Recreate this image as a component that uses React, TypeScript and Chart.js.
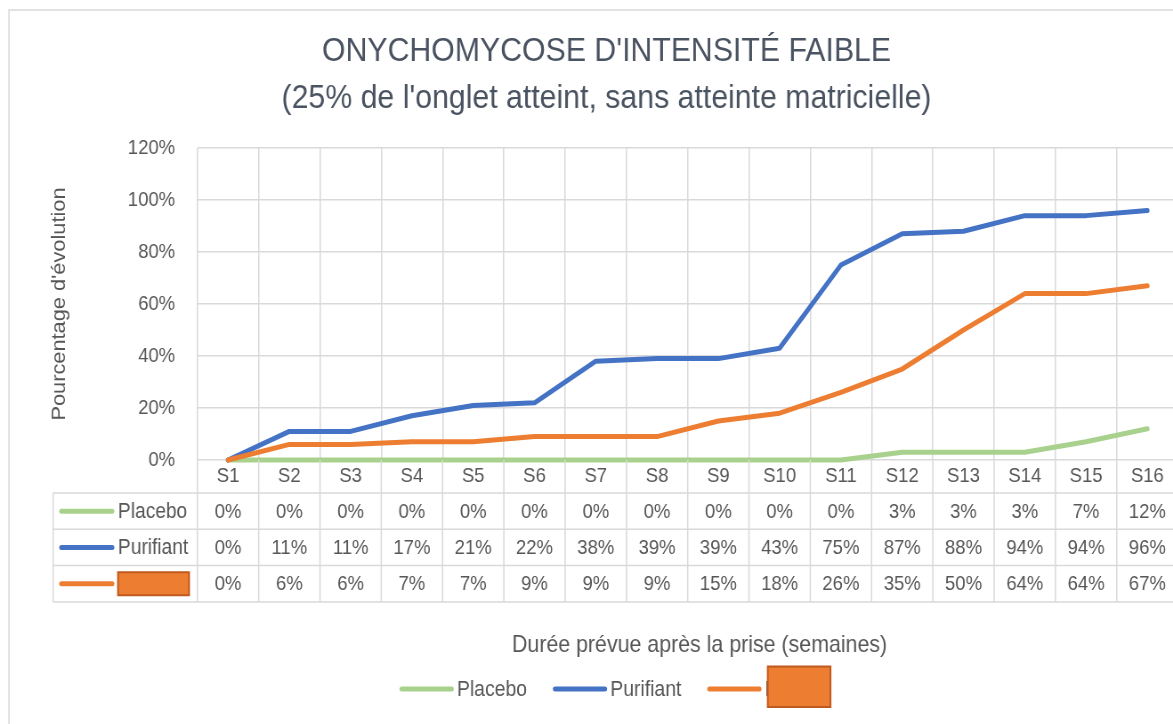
import React, { useEffect, useRef } from 'react';
import { Chart, registerables } from 'chart.js';

Chart.register(...registerables);

// ---- data ----
const CATEGORIES = ['S1', 'S2', 'S3', 'S4', 'S5', 'S6', 'S7', 'S8', 'S9', 'S10', 'S11', 'S12', 'S13', 'S14', 'S15', 'S16'];
const PLACEBO = [0, 0, 0, 0, 0, 0, 0, 0, 0, 0, 0, 3, 3, 3, 7, 12];
const PURIFIANT = [0, 11, 11, 17, 21, 22, 38, 39, 39, 43, 75, 87, 88, 94, 94, 96];
const PRODUIT = [0, 6, 6, 7, 7, 9, 9, 9, 15, 18, 26, 35, 50, 64, 64, 67];
const SERIES_NAMES = ['Placebo', 'Purifiant', 'Produit'];
const SERIES_COLORS = ['#A9D18E', '#4472C4', '#ED7D31'];
const Y_MIN = 0;
const Y_MAX = 120;
const Y_STEP = 20;
const TITLE_LINES = ["ONYCHOMYCOSE D'INTENSITÉ FAIBLE", "(25% de l'onglet atteint, sans atteinte matricielle)"];
const Y_TITLE = "Pourcentage d'évolution";
const X_TITLE = 'Durée prévue après la prise (semaines)';

// ---- layout / style ----
const SX = 0.89; // horizontal squeeze of the reference image
const CW = 1350;
const CH = 724;
const FONT = "'Liberation Sans', Arial, Helvetica, sans-serif";
const TEXT = '#575757';
const GRID = '#D9D9D9';
const REDACT_FILL = '#ED7D31';
const REDACT_STROKE = '#BF5A1E';

const tablePlugin = {
  id: 'tableAndLegend',
  beforeDraw(chart: any) {
    const { ctx } = chart;
    ctx.save();
    ctx.fillStyle = '#ffffff';
    ctx.fillRect(0, 0, chart.width, chart.height);
    ctx.strokeStyle = GRID;
    ctx.lineWidth = 1.5;
    ctx.beginPath();
    ctx.moveTo(10.1, CH);
    ctx.lineTo(10.1, 10);
    ctx.lineTo(CW, 10);
    ctx.stroke();
    ctx.restore();
  },
  afterDraw(chart: any) {
    const { ctx, chartArea } = chart;
    const x = chart.scales.x;
    const n = CATEGORIES.length;
    const half = (x.getPixelForValue(1) - x.getPixelForValue(0)) / 2;
    const left0 = x.getPixelForValue(0) - half;
    const right = x.getPixelForValue(n - 1) + half;
    const tableLeft = 59.6;
    const b = chartArea.bottom;
    const rows = [b, b + 33, b + 69.3, b + 105.6, b + 141.9];

    ctx.save();
    ctx.strokeStyle = GRID;
    ctx.lineWidth = 1.5;
    ctx.beginPath();
    for (let r = 1; r < rows.length; r++) {
      ctx.moveTo(tableLeft, rows[r]);
      ctx.lineTo(right, rows[r]);
    }
    ctx.moveTo(tableLeft, rows[1]);
    ctx.lineTo(tableLeft, rows[4]);
    for (let i = 0; i <= n; i++) {
      const px = left0 + i * 2 * half;
      ctx.moveTo(px, rows[0]);
      ctx.lineTo(px, rows[4]);
    }
    ctx.stroke();

    const datasets = chart.data.datasets;
    // table rows
    for (let r = 0; r < datasets.length; r++) {
      const ds = datasets[r];
      const cy = (rows[r + 1] + rows[r + 2]) / 2;
      ctx.strokeStyle = ds.borderColor;
      ctx.lineWidth = 5;
      ctx.lineCap = 'round';
      ctx.beginPath();
      ctx.moveTo(69, cy);
      ctx.lineTo(126, cy);
      ctx.stroke();
      ctx.fillStyle = TEXT;
      ctx.font = `21.5px ${FONT}`;
      ctx.textAlign = 'left';
      ctx.textBaseline = 'middle';
      ctx.fillText(ds.label, 132.6, cy + 1);
      ctx.font = `20.8px ${FONT}`;
      ctx.textAlign = 'center';
      ds.data.forEach((v: number, i: number) => {
        ctx.fillText(`${v}%`, x.getPixelForValue(i), cy + 1);
      });
      if (r === 2) {
        ctx.fillStyle = REDACT_FILL;
        ctx.strokeStyle = REDACT_STROKE;
        ctx.lineWidth = 2;
        ctx.fillRect(132.6, cy - 11.5, 79.8, 23);
        ctx.strokeRect(132.6, cy - 11.5, 79.8, 23);
      }
    }

    // x axis title
    ctx.fillStyle = TEXT;
    ctx.font = `24px ${FONT}`;
    ctx.textAlign = 'center';
    ctx.textBaseline = 'middle';
    ctx.fillText(X_TITLE, 786, 645);

    // bottom legend
    const ly = 689;
    let lx = 449.4;
    ctx.font = `21.8px ${FONT}`;
    ctx.textAlign = 'left';
    for (let r = 0; r < datasets.length; r++) {
      const ds = datasets[r];
      ctx.strokeStyle = ds.borderColor;
      ctx.lineWidth = 5;
      ctx.lineCap = 'round';
      ctx.beginPath();
      ctx.moveTo(lx + 2, ly);
      ctx.lineTo(lx + 58, ly);
      ctx.stroke();
      const tx = lx + 64;
      ctx.fillStyle = TEXT;
      ctx.fillText(ds.label, tx, ly + 1);
      if (r === 2) {
        ctx.fillStyle = REDACT_FILL;
        ctx.strokeStyle = REDACT_STROKE;
        ctx.lineWidth = 2;
        ctx.fillRect(tx + 3.5, 666.5, 70.5, 40.5);
        ctx.strokeRect(tx + 3.5, 666.5, 70.5, 40.5);
      }
      lx = tx + ctx.measureText(ds.label).width + 29.5;
    }
    ctx.restore();
  },
};

export default function App() {
  const ref = useRef<HTMLCanvasElement>(null);

  useEffect(() => {
    if (!ref.current) return;
    const seriesData = [PLACEBO, PURIFIANT, PRODUIT];
    const chart = new Chart(ref.current, {
      type: 'line',
      data: {
        labels: CATEGORIES,
        datasets: SERIES_NAMES.map((name, i) => ({
          label: name,
          data: seriesData[i],
          borderColor: SERIES_COLORS[i],
          backgroundColor: SERIES_COLORS[i],
          borderWidth: 5,
          pointRadius: 0,
          pointHoverRadius: 0,
          tension: 0,
          fill: false,
          order: 3 - i,
          clip: false as any,
          borderCapStyle: 'round' as const,
          borderJoinStyle: 'round' as const,
        })),
      },
      options: {
        responsive: false,
        animation: false,
        devicePixelRatio: 1,
        layout: { padding: { left: 39.4, right: 26.4, top: 0, bottom: 0 } },
        plugins: {
          legend: { display: false },
          tooltip: { enabled: false },
          title: {
            display: true,
            text: TITLE_LINES,
            color: '#4a5361',
            font: { family: FONT, size: 34, weight: 'normal', lineHeight: 1.38 },
            padding: { top: 28.5, bottom: 25.7 },
          },
        },
        scales: {
          x: {
            type: 'category',
            offset: true,
            grid: { offset: true, color: GRID, lineWidth: 1.5, drawTicks: false },
            border: { display: false },
            ticks: { color: TEXT, font: { family: FONT, size: 20.8 }, padding: 4, maxRotation: 0, autoSkip: false },
            afterFit: (s: any) => { s.height = 264; },
          },
          y: {
            min: Y_MIN,
            max: Y_MAX,
            grid: { color: GRID, lineWidth: 1.5, drawTicks: false },
            border: { display: false },
            ticks: {
              stepSize: Y_STEP,
              color: TEXT,
              font: { family: FONT, size: 20.8 },
              padding: 25,
              callback: (v: any) => `${v}%`,
            },
            title: {
              display: true,
              text: Y_TITLE,
              color: TEXT,
              font: { family: FONT, size: 21.8 },
              padding: { top: 15, bottom: 0 },
            },
            afterFit: (s: any) => { s.width = 182.4; },
          },
        },
      },
      plugins: [tablePlugin],
    });
    return () => chart.destroy();
  }, []);

  return (
    <div style={{ position: 'absolute', left: 0, top: 0, width: 1173, height: 724, overflow: 'hidden', background: '#fff' }}>
      <canvas
        ref={ref}
        width={CW}
        height={CH}
        style={{ width: CW, height: CH, display: 'block', transform: `scaleX(${SX})`, transformOrigin: '0 0' }}
      />
    </div>
  );
}
